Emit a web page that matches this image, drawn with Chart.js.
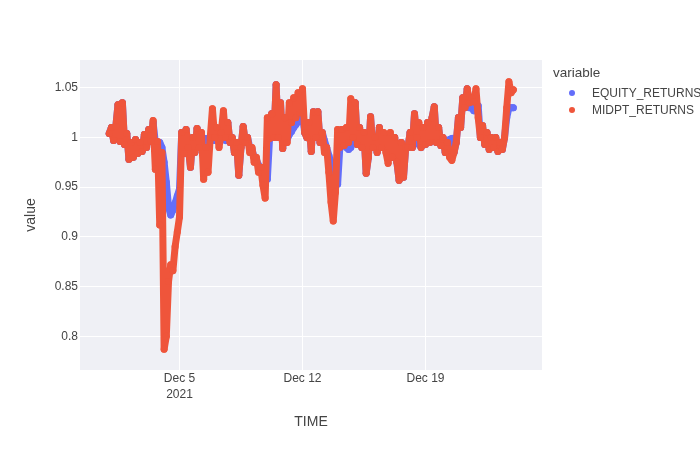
<!DOCTYPE html>
<html>
<head>
<meta charset="utf-8">
<script src="https://cdn.jsdelivr.net/npm/chart.js@4.4.1/dist/chart.umd.min.js"></script>
<style>
  body { margin: 0; background: #fff; font-family: "Liberation Sans", Arial, sans-serif; }
  #wrap { position: relative; width: 700px; height: 450px; overflow: hidden; }
  canvas { position: absolute; left: 0; top: 0; }
  .leg { position: absolute; color: #444; white-space: nowrap; font-size: 12px; line-height: 16px; }
  .dot { position: absolute; width: 6px; height: 6px; border-radius: 50%; }
</style>
</head>
<body>
<div id="wrap">
  <canvas id="chart" width="700" height="450"></canvas>
  <div class="leg" style="left:553px; top:65px; font-size:13.5px;">variable</div>
  <div class="dot" style="left:569px; top:90px; background:#636efa;"></div>
  <div class="leg" style="left:592px; top:85px;">EQUITY_RETURNS</div>
  <div class="dot" style="left:569px; top:107px; background:#EF553B;"></div>
  <div class="leg" style="left:592px; top:102px;">MIDPT_RETURNS</div>
</div>
<script>
// time grid: days of December 2021, one reading every 3 hours from Dec 1 00:00
const startDay = 1;
const stepDays = 0.125;

const midptReturns = [
  1.004, 1.010, 0.997, 1.011, 1.033, 0.996, 1.035, 0.993, 1.004, 0.978,
  0.995, 0.980, 0.998, 0.984, 0.995, 0.986, 1.003, 0.990, 1.008, 0.996,
  1.017, 0.968, 0.996, 0.912, 0.985, 0.787, 0.800, 0.855, 0.872, 0.866,
  0.890, 0.905, 0.920, 1.005, 0.984, 1.008, 0.990, 0.970, 1.000, 0.985,
  1.009, 0.990, 1.005, 0.958, 0.990, 0.965, 1.000, 1.029, 1.000, 1.010,
  0.990, 1.005, 1.027, 1.000, 1.015, 0.995, 1.000, 0.985, 0.995, 0.962,
  0.990, 1.011, 0.995, 1.000, 0.985, 0.990, 0.975, 0.980, 0.965, 0.970,
  0.952, 0.939, 1.020, 0.999, 1.024, 1.000, 1.053, 1.000, 1.035, 0.989,
  1.020, 0.995, 1.035, 1.015, 1.040, 1.020, 1.045, 1.025, 1.049, 1.005,
  1.000, 1.015, 0.986, 1.026, 1.000, 1.026, 0.995, 1.005, 0.985, 0.990,
  0.965, 0.935, 0.916, 0.945, 1.008, 0.990, 1.008, 0.992, 1.010, 0.995,
  1.039, 1.000, 1.035, 0.993, 1.010, 0.990, 1.005, 0.964, 0.980, 1.021,
  0.990, 1.000, 0.985, 1.010, 0.990, 1.005, 0.985, 0.974, 1.005, 0.980,
  1.000, 0.975, 0.957, 0.995, 0.960, 0.990, 0.990, 1.005, 0.990, 1.024,
  1.000, 1.015, 0.990, 1.010, 0.993, 1.015, 0.995, 1.020, 1.031, 0.995,
  1.010, 0.992, 1.000, 0.985, 0.995, 0.980, 0.977, 0.985, 0.995, 1.020,
  1.010, 1.040, 1.030, 1.049, 1.035, 1.040, 1.036, 1.049, 1.020, 1.000,
  1.012, 0.993, 1.005, 0.988, 1.000, 0.990, 1.000, 0.986, 0.995, 0.988,
  1.000, 1.030, 1.056, 1.045, 1.048
];

const equityReturns = [
  1.004, 1.010, 0.997, 1.011, 1.033, 0.996, 1.035, 0.993, 1.004, 0.978,
  0.995, 0.980, 0.998, 0.984, 0.995, 0.986, 1.003, 0.990, 1.008, 0.996,
  1.015, 0.995, 0.993, 0.995, 0.990, 0.975, 0.955, 0.930, 0.922, 0.927,
  0.934, 0.941, 0.948, 1.005, 0.984, 1.008, 0.990, 0.970, 1.000, 0.985,
  1.009, 0.990, 1.000, 0.998, 0.999, 0.996, 0.998, 1.000, 0.997, 0.998,
  0.996, 0.998, 0.999, 0.997, 1.015, 0.995, 1.000, 0.985, 0.995, 0.962,
  0.990, 1.011, 0.995, 1.000, 0.990, 0.988, 0.980, 0.978, 0.972, 0.968,
  0.966, 0.962, 0.958, 0.999, 1.024, 1.000, 1.053, 1.000, 1.035, 0.989,
  1.020, 0.998, 1.003, 1.006, 1.010, 1.013, 1.016, 1.019, 1.022, 1.005,
  1.000, 1.015, 0.986, 1.026, 1.000, 1.026, 0.995, 1.005, 0.997, 0.990,
  0.982, 0.975, 0.968, 0.960, 0.953, 0.990, 1.008, 0.992, 0.990, 0.988,
  0.990, 1.000, 1.035, 0.993, 1.010, 0.990, 1.005, 0.964, 0.980, 1.021,
  0.990, 1.000, 0.985, 1.010, 0.995, 0.998, 0.995, 0.993, 0.996, 0.980,
  1.000, 0.975, 0.957, 0.995, 0.960, 0.990, 0.990, 1.005, 0.990, 1.024,
  0.996, 0.993, 0.990, 0.995, 0.993, 1.015, 0.995, 1.020, 1.031, 0.995,
  1.010, 0.992, 1.000, 0.985, 0.995, 0.998, 0.999, 0.985, 0.995, 1.020,
  1.010, 1.040, 1.030, 1.049, 1.030, 1.030, 1.027, 1.030, 1.032, 1.000,
  1.012, 0.993, 1.005, 0.988, 1.000, 0.990, 1.000, 0.986, 0.995, 0.988,
  1.000, 1.020, 1.030, 1.030, 1.030
];

const xTicks = [5, 12, 19];
const xTickLabels = [["Dec 5", "2021"], "Dec 12", "Dec 19"];
const yTicks = [0.8, 0.85, 0.9, 0.95, 1, 1.05];
const xMin = -0.663, xMax = 25.632;
const yMin = 0.766, yMax = 1.078;

function toPoints(values) {
    return values.map((v, i) => ({ x: startDay + i * stepDays, y: v }));
}

const plotBg = {
    id: 'plotBg',
    beforeDraw(chart) {
        const { ctx, chartArea: a } = chart;
        ctx.save();
        ctx.fillStyle = '#eff0f5';
        ctx.fillRect(a.left, a.top, a.right - a.left, a.bottom - a.top);
        ctx.restore();
    }
};

const font = { family: '"Liberation Sans", Arial, sans-serif', size: 12 };

function series(label, values, color, order) {
    return {
        label: label,
        data: toPoints(values),
        showLine: true,
        borderColor: color,
        backgroundColor: color,
        borderWidth: 7,
        borderJoinStyle: 'round',
        borderCapStyle: 'round',
        pointRadius: 3.5,
        pointBorderWidth: 0,
        pointBackgroundColor: color,
        order: order
    };
}

new Chart(document.getElementById('chart'), {
    type: 'scatter',
    data: {
        datasets: [
            series('EQUITY_RETURNS', equityReturns, '#636efa', 2),
            series('MIDPT_RETURNS', midptReturns, '#EF553B', 1)
        ]
    },
    options: {
        responsive: false,
        animation: false,
        events: [],
        layout: { padding: { top: 60, right: 158, left: 0, bottom: 0 } },
        plugins: { legend: { display: false }, tooltip: { enabled: false } },
        scales: {
            x: {
                type: 'linear',
                min: xMin,
                max: xMax,
                afterFit(scale) { scale.height = 80; },
                afterBuildTicks(scale) { scale.ticks = xTicks.map(v => ({ value: v })); },
                grid: { color: '#ffffff', lineWidth: 1, drawTicks: false },
                border: { display: false },
                ticks: {
                    autoSkip: false,
                    maxRotation: 0,
                    padding: 1,
                    color: '#444',
                    font: { ...font, lineHeight: 1.33 },
                    callback: (v) => xTickLabels[xTicks.indexOf(v)]
                },
                title: {
                    display: true,
                    text: 'TIME',
                    color: '#444',
                    font: { ...font, size: 14 },
                    padding: { top: 0, bottom: 19 }
                }
            },
            y: {
                min: yMin,
                max: yMax,
                afterFit(scale) { scale.width = 80; },
                afterBuildTicks(scale) { scale.ticks = yTicks.map(v => ({ value: v })); },
                grid: { color: '#ffffff', lineWidth: 1, drawTicks: false },
                border: { display: false },
                ticks: {
                    padding: 2,
                    color: '#444',
                    font: font,
                    callback: (v) => String(+v.toFixed(2))
                },
                title: {
                    display: true,
                    text: 'value',
                    color: '#444',
                    font: { ...font, size: 14 },
                    padding: { top: 23, bottom: 0 }
                }
            }
        }
    },
    plugins: [plotBg]
});
</script>
</body>
</html>
